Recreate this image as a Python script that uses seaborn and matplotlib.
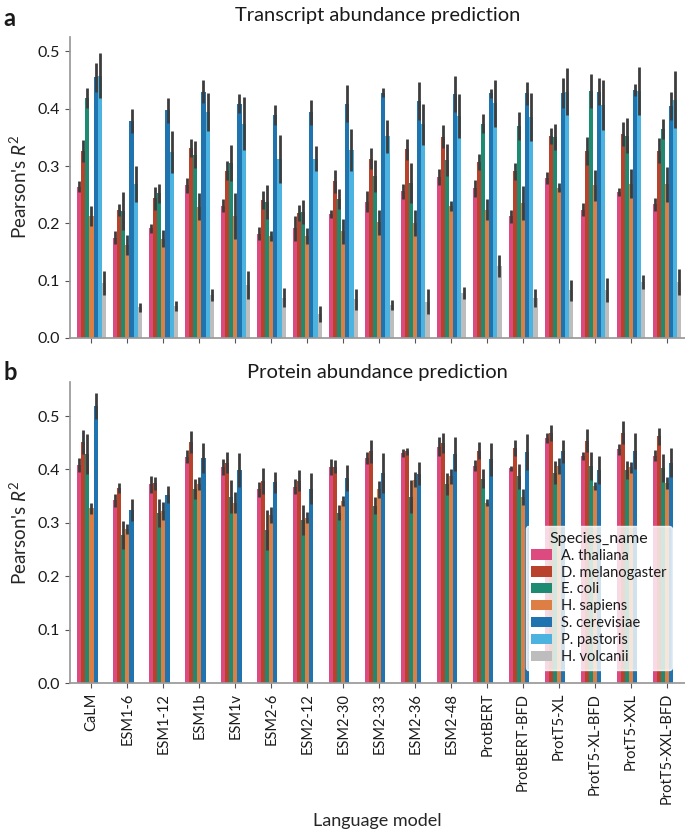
import numpy as np
import pandas as pd
import matplotlib.pyplot as plt
import seaborn as sns

models = ["CaLM", "ESM1-6", "ESM1-12", "ESM1b", "ESM1v", "ESM2-6", "ESM2-12",
          "ESM2-30", "ESM2-33", "ESM2-36", "ESM2-48", "ProtBERT", "ProtBERT-BFD",
          "ProtT5-XL", "ProtT5-XL-BFD", "ProtT5-XXL", "ProtT5-XXL-BFD"]
species = ["A. thaliana", "D. melanogaster", "E. coli", "H. sapiens",
           "S. cerevisiae", "P. pastoris", "H. volcanii"]
colors = ["#dc4a80", "#b9422c", "#1d8a72", "#dd7f45", "#1f74b0", "#4cb2e0", "#bdbdbd"]

# Transcript abundance: mean Pearson's R^2 and error half-width, per species
tx_mean = {
    "A. thaliana": [0.264, 0.175, 0.191, 0.266, 0.231, 0.182, 0.191, 0.216, 0.238, 0.256, 0.280, 0.261, 0.212, 0.279, 0.224, 0.255, 0.233],
    "D. melanogaster": [0.326, 0.223, 0.244, 0.332, 0.292, 0.241, 0.218, 0.273, 0.313, 0.329, 0.351, 0.307, 0.291, 0.352, 0.326, 0.356, 0.327],
    "E. coli": [0.419, 0.222, 0.252, 0.320, 0.305, 0.237, 0.220, 0.242, 0.283, 0.270, 0.311, 0.374, 0.370, 0.351, 0.431, 0.353, 0.365],
    "H. sapiens": [0.213, 0.162, 0.173, 0.229, 0.212, 0.178, 0.178, 0.186, 0.202, 0.200, 0.230, 0.224, 0.235, 0.262, 0.266, 0.269, 0.268],
    "S. cerevisiae": [0.455, 0.378, 0.397, 0.430, 0.409, 0.389, 0.394, 0.409, 0.428, 0.413, 0.426, 0.427, 0.427, 0.428, 0.430, 0.433, 0.405],
    "P. pastoris": [0.458, 0.269, 0.324, 0.394, 0.374, 0.312, 0.313, 0.328, 0.352, 0.373, 0.387, 0.410, 0.385, 0.430, 0.407, 0.431, 0.416],
    "H. volcanii": [0.095, 0.053, 0.055, 0.075, 0.092, 0.070, 0.042, 0.067, 0.057, 0.063, 0.078, 0.125, 0.069, 0.083, 0.083, 0.097, 0.097],
}
tx_err = {
    "A. thaliana": [0.010, 0.012, 0.008, 0.013, 0.012, 0.012, 0.022, 0.007, 0.018, 0.013, 0.014, 0.015, 0.012, 0.010, 0.011, 0.007, 0.012],
    "D. melanogaster": [0.019, 0.011, 0.020, 0.016, 0.017, 0.016, 0.014, 0.020, 0.018, 0.018, 0.020, 0.014, 0.015, 0.014, 0.024, 0.021, 0.022],
    "E. coli": [0.017, 0.033, 0.017, 0.023, 0.032, 0.029, 0.021, 0.017, 0.028, 0.035, 0.028, 0.017, 0.025, 0.023, 0.029, 0.031, 0.017],
    "H. sapiens": [0.017, 0.017, 0.015, 0.023, 0.040, 0.009, 0.014, 0.022, 0.022, 0.023, 0.009, 0.019, 0.030, 0.008, 0.027, 0.025, 0.030],
    "S. cerevisiae": [0.025, 0.021, 0.022, 0.020, 0.017, 0.017, 0.022, 0.032, 0.008, 0.033, 0.031, 0.008, 0.020, 0.026, 0.023, 0.010, 0.024],
    "P. pastoris": [0.040, 0.031, 0.037, 0.033, 0.046, 0.042, 0.022, 0.036, 0.029, 0.036, 0.038, 0.041, 0.042, 0.041, 0.044, 0.042, 0.050],
    "H. volcanii": [0.021, 0.008, 0.009, 0.010, 0.025, 0.017, 0.014, 0.019, 0.009, 0.022, 0.010, 0.019, 0.016, 0.018, 0.021, 0.012, 0.023],
}

# Protein abundance: only five species have data
pr_mean = {
    "A. thaliana": [0.408, 0.342, 0.372, 0.424, 0.404, 0.3625, 0.3675, 0.404, 0.422, 0.431, 0.443, 0.407, 0.402, 0.459, 0.425, 0.438, 0.426],
    "D. melanogaster": [0.451, 0.365, 0.374, 0.451, 0.413, 0.378, 0.379, 0.405, 0.434, 0.434, 0.449, 0.435, 0.441, 0.469, 0.454, 0.469, 0.4625],
    "E. coli": [0.429, 0.277, 0.319, 0.364, 0.349, 0.287, 0.306, 0.319, 0.332, 0.349, 0.373, 0.383, 0.387, 0.394, 0.407, 0.399, 0.4025],
    "H. sapiens": [0.327, 0.289, 0.322, 0.373, 0.338, 0.315, 0.310, 0.341, 0.3625, 0.381, 0.3875, 0.338, 0.349, 0.406, 0.369, 0.404, 0.375],
    "S. cerevisiae": [0.519, 0.324, 0.353, 0.422, 0.399, 0.376, 0.364, 0.384, 0.393, 0.392, 0.429, 0.419, 0.433, 0.434, 0.399, 0.434, 0.4125],
}
pr_err = {
    "A. thaliana": [0.013, 0.012, 0.016, 0.012, 0.015, 0.014, 0.014, 0.015, 0.011, 0.008, 0.017, 0.010, 0.005, 0.010, 0.008, 0.010, 0.011],
    "D. melanogaster": [0.022, 0.009, 0.012, 0.021, 0.019, 0.024, 0.020, 0.012, 0.021, 0.007, 0.019, 0.016, 0.015, 0.015, 0.022, 0.022, 0.016],
    "E. coli": [0.038, 0.026, 0.026, 0.019, 0.031, 0.038, 0.028, 0.014, 0.016, 0.031, 0.020, 0.018, 0.024, 0.021, 0.026, 0.017, 0.026],
    "H. sapiens": [0.010, 0.009, 0.017, 0.012, 0.019, 0.015, 0.011, 0.009, 0.016, 0.014, 0.014, 0.006, 0.015, 0.015, 0.008, 0.010, 0.011],
    "S. cerevisiae": [0.024, 0.020, 0.016, 0.028, 0.032, 0.020, 0.029, 0.025, 0.038, 0.022, 0.032, 0.031, 0.034, 0.021, 0.027, 0.034, 0.027],
}


def to_long(means, errs):
    rows = []
    for sp in means:
        for m, v, e in zip(models, means[sp], errs[sp]):
            rows.append({"model": m, "Species_name": sp, "r2": v, "err": e})
    return pd.DataFrame(rows)


sns.set_theme(style="ticks")
plt.rcParams["font.family"] = ["Lato", "DejaVu Sans"]
plt.rcParams["mathtext.fontset"] = "custom"
plt.rcParams["mathtext.rm"] = "Lato"
plt.rcParams["mathtext.it"] = "Lato:italic"
plt.rcParams["text.color"] = "#1a1a1a"

palette = dict(zip(species, colors))
fig = plt.figure(figsize=(6.85, 8.32), dpi=100)
ax_a = fig.add_axes([0.102, 0.594, 0.898, 0.362])
ax_b = fig.add_axes([0.102, 0.179, 0.898, 0.362])


def draw_panel(ax, df, legend):
    sns.barplot(data=df, x="model", y="r2", hue="Species_name", order=models,
                hue_order=species, palette=palette, errorbar=None, saturation=1,
                width=0.8, linewidth=0, legend=legend, ax=ax)
    present = [s for s in species if s in set(df["Species_name"])]
    for sp, cont in zip(present, ax.containers):
        sub = df[df["Species_name"] == sp].set_index("model").loc[models]
        xs = [p.get_x() + p.get_width() / 2 for p in cont.patches]
        ax.errorbar(xs, sub["r2"], yerr=sub["err"], fmt="none", ecolor="#3d3d3d",
                    elinewidth=2.0, capsize=0, zorder=3)
    ax.set_xlim(-0.6, 16.5)
    ax.set_yticks(np.arange(0, 0.51, 0.1))
    ax.set_yticklabels([f"{t:.1f}" for t in np.arange(0, 0.51, 0.1)], fontsize=11.5)
    ax.set_ylabel("Pearson's $R^2$", fontsize=13.5, labelpad=6)
    sns.despine(ax=ax)
    for s in ["left", "bottom"]:
        ax.spines[s].set_color("#999999")
    ax.tick_params(colors="#1a1a1a", length=3.5, width=0.8)
    ax.tick_params(axis="both", color="#555555")


draw_panel(ax_a, to_long(tx_mean, tx_err), False)
ax_a.set_ylim(0, 0.526)
ax_a.set_xlabel("")
ax_a.set_xticklabels([])
ax_a.set_title("Transcript abundance prediction", fontsize=14.5, pad=11)

draw_panel(ax_b, to_long(pr_mean, pr_err), True)
ax_b.set_ylim(0, 0.564)
ax_b.set_xticks(range(len(models)))
ax_b.set_xticklabels(models, rotation=90, fontsize=10.5)
ax_b.set_xlabel("Language model", fontsize=13, labelpad=6)
ax_b.set_title("Protein abundance prediction", fontsize=14.5, pad=3)
leg = ax_b.legend(title="Species_name", loc="lower right", fontsize=10.5,
                  title_fontsize=11.5, handlelength=1.4, handletextpad=0.6,
                  labelspacing=0.2, borderaxespad=0.9, frameon=True)
leg.get_frame().set_alpha(0.8)
leg.get_frame().set_edgecolor("white")

fig.text(0.005, 0.978, "a", fontsize=17, fontweight="bold", va="center")
fig.text(0.005, 0.552, "b", fontsize=17, fontweight="bold", va="center")

fig.savefig("out.png", dpi=100)
